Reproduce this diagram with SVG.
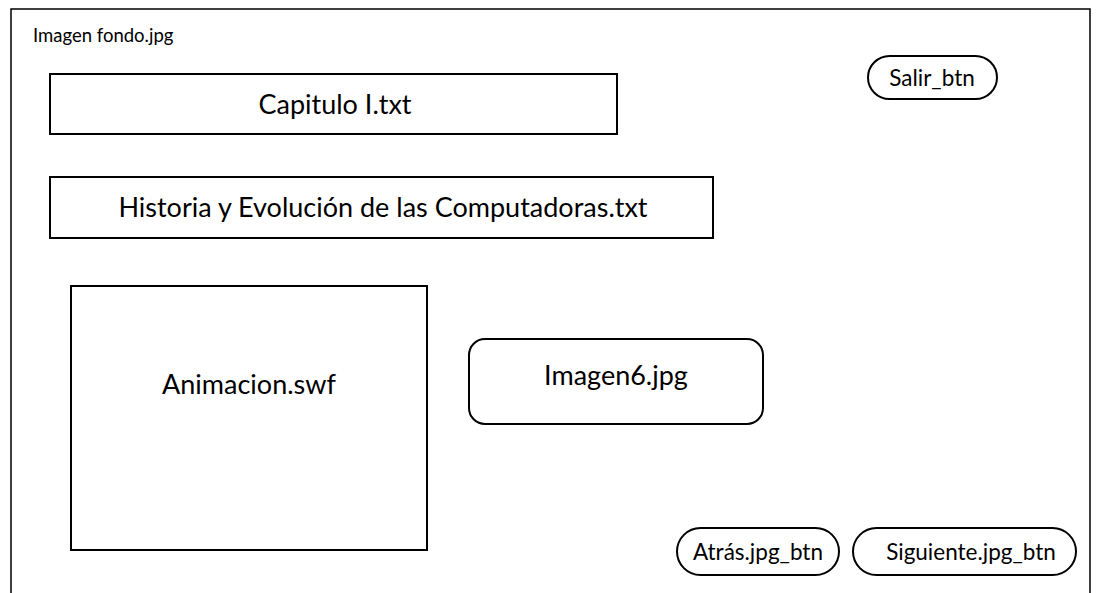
<svg xmlns="http://www.w3.org/2000/svg" width="1097" height="593" viewBox="0 0 1097 593">
<style>
.box{fill:#fff;stroke:#000;stroke-width:2}
.frame{fill:none;stroke:#000;stroke-width:1.5}
text{font-family:Lato,"Open Sans","Liberation Sans",sans-serif;fill:#000}
.big{font-size:27px;text-anchor:middle}
.btn{font-size:22.5px;text-anchor:middle}
</style>
<rect width="1097" height="593" fill="#fff"/>
<g id="fondo">
<path class="frame" d="M11 593 V9 H1090 V593"/>
<text x="33" y="42" font-size="18.5">Imagen fondo.jpg</text>
</g>
<g id="capitulo">
<rect class="box" x="50" y="74" width="567" height="60"/>
<text class="big" x="335" y="114">Capitulo I.txt</text>
</g>
<g id="historia">
<rect class="box" x="50" y="177" width="663" height="61"/>
<text class="big" x="383" y="217">Historia y Evolución de las Computadoras.txt</text>
</g>
<g id="animacion">
<rect class="box" x="71" y="286" width="356" height="264"/>
<text class="big" x="249" y="394">Animacion.swf</text>
</g>
<g id="imagen6">
<rect class="box" x="469" y="339" width="294" height="85" rx="16"/>
<text class="big" x="616" y="385">Imagen6.jpg</text>
</g>
<g id="salir">
<rect class="box" x="868" y="56" width="129" height="43" rx="21.5"/>
<text class="btn" x="932" y="86">Salir_btn</text>
</g>
<g id="atras">
<rect class="box" x="677" y="528" width="162" height="47" rx="23.5"/>
<text class="btn" x="758" y="560">Atrás.jpg_btn</text>
</g>
<g id="siguiente">
<rect class="box" x="853" y="528" width="223" height="47" rx="23.5"/>
<text class="btn" x="971" y="560">Siguiente.jpg_btn</text>
</g>
<g id="connectors"></g>
</svg>
